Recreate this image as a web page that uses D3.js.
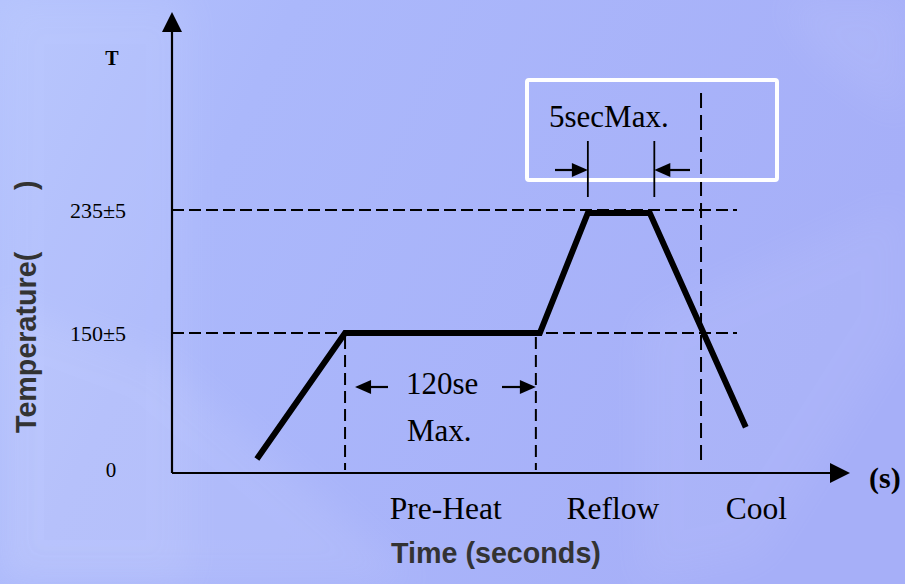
<!DOCTYPE html>
<html><head><meta charset="utf-8">
<script src="https://cdn.jsdelivr.net/npm/d3@7"></script>
<style>html,body{margin:0;padding:0;overflow:hidden;background:#aab6fa}svg{display:block}</style>
</head><body>
<svg id="c" width="905" height="584"></svg>
<script>
// ---- data (schematic units: time 0..100, temperature in °C) ----
const profileTime = [12.9, 26.3, 55.9, 63.2, 72.6, 87.2];
const profileTemp = [15, 150, 150, 233, 233, 49];
const refTemps = [150, 235];
const refLabels = ["150±5", "235±5"];
const zeroLabel = "0";
const zoneLabels = ["Pre-Heat", "Reflow", "Cool"];
const zoneLabelTime = [41.6, 67.0, 88.8];
const zoneBoundTime = [26.3, 55.3, 80.4];
const preheatSpan = [26.3, 55.3];
const peakSpan = [63.2, 73.3];
const xTitle = "Time (seconds)";
const yTitle = ["Temperature(", ")"];
const xUnit = "(s)";
const yUnit = "T";

const svg = d3.select("#c");
const W = 905, H = 584;

// background
const defs = svg.append("defs");
const g1 = defs.append("linearGradient").attr("id","bg").attr("x1","0").attr("y1","0").attr("x2","1").attr("y2","0.3");
g1.append("stop").attr("offset","0").attr("stop-color","#b4c3fd");
g1.append("stop").attr("offset","0.3").attr("stop-color","#abb8fb");
g1.append("stop").attr("offset","1").attr("stop-color","#a6aff8");
svg.append("rect").attr("width",W).attr("height",H).attr("fill","url(#bg)");
const blur = defs.append("filter").attr("id","bl").attr("x","-50%").attr("y","-50%").attr("width","200%").attr("height","200%");
blur.append("feGaussianBlur").attr("stdDeviation", 18);
svg.append("path").attr("d","M0,300 L160,360 L420,584 L0,584 Z").attr("fill","#ffffff").attr("opacity",0.08).attr("filter","url(#bl)");
svg.append("path").attr("d","M0,0 L190,0 L190,584 L0,584 Z").attr("fill","#ffffff").attr("opacity",0.07).attr("filter","url(#bl)");
svg.append("path").attr("d","M640,320 L905,200 L905,330 L760,560 L640,584 Z").attr("fill","#ffffff").attr("opacity",0.05).attr("filter","url(#bl)");
svg.append("path").attr("d","M780,0 L905,0 L905,120 L820,60 Z").attr("fill","#ffffff").attr("opacity",0.06).attr("filter","url(#bl)");

// scales
const x = d3.scaleLinear().domain([0, 100]).range([172, 830]);
const y = d3.scaleLinear().domain([0, 150, 235]).range([473, 333, 210]);

const serif = "'Liberation Serif','Times New Roman',serif";
const sans = "'Liberation Sans',Arial,sans-serif";

// reference dashed lines
svg.selectAll(".ref").data(refTemps).join("line")
  .attr("x1", x(0)).attr("x2", 737)
  .attr("y1", d => y(d)).attr("y2", d => y(d))
  .attr("stroke","#000").attr("stroke-width",2).attr("stroke-dasharray","12,5");

// zone boundary dashed lines
[0,1].forEach(i => {
  svg.append("line").attr("x1", x(zoneBoundTime[i])).attr("x2", x(zoneBoundTime[i]))
    .attr("y1", y(150)+4).attr("y2", 470).attr("stroke","#000").attr("stroke-width",2).attr("stroke-dasharray","12,6");
});
svg.append("line").attr("x1", x(zoneBoundTime[2])).attr("x2", x(zoneBoundTime[2]))
  .attr("y1", 93).attr("y2", 465).attr("stroke","#000").attr("stroke-width",2).attr("stroke-dasharray","15,7");

// axes
svg.append("line").attr("x1", x(0)).attr("x2", x(0)).attr("y1", y(0)).attr("y2", 30)
  .attr("stroke","#000").attr("stroke-width",2.2);
svg.append("path").attr("d", `M${x(0)-10},32 L${x(0)},12 L${x(0)+10},32 Z`).attr("fill","#000");
svg.append("line").attr("x1", x(0)).attr("x2", 832).attr("y1", y(0)).attr("y2", y(0))
  .attr("stroke","#000").attr("stroke-width",2.2);
svg.append("path").attr("d", `M830,${y(0)-10} L850,${y(0)} L830,${y(0)+10} Z`).attr("fill","#000");

// profile
const line = d3.line().x(d => x(d[0])).y(d => y(d[1]));
svg.append("path").datum(profileTime.map((t,i)=>[t, profileTemp[i]]))
  .attr("d", line).attr("fill","none").attr("stroke","#000").attr("stroke-width",6)
  .attr("stroke-linejoin","miter");

// white box
svg.append("rect").attr("x",527).attr("y",80).attr("width",250).attr("height",100)
  .attr("fill","none").attr("stroke","#fff").attr("stroke-width",4).attr("rx",2);

// arrows helper
function arrow(x1, x2, yy) { // from x1 to tip at x2
  const dir = Math.sign(x2 - x1);
  svg.append("line").attr("x1", x1).attr("x2", x2 - dir*12).attr("y1", yy).attr("y2", yy)
    .attr("stroke","#000").attr("stroke-width",2.2);
  svg.append("path").attr("d", `M${x2},${yy} L${x2-dir*16},${yy-7} L${x2-dir*16},${yy+7} Z`).attr("fill","#000");
}

// 5 sec markers
peakSpan.forEach(t => {
  svg.append("line").attr("x1", x(t)).attr("x2", x(t)).attr("y1", 141).attr("y2", 197)
    .attr("stroke","#000").attr("stroke-width",1.8);
});
arrow(555, x(peakSpan[0]), 170);
arrow(690, x(peakSpan[1]), 170);
svg.append("text").attr("x", 549).attr("y", 127).attr("font-family", serif).attr("font-size", 31)
  .text("5secMax.");

// 120 sec markers
arrow(388, x(preheatSpan[0]) + 10, 387);
arrow(502, x(preheatSpan[1]), 387);
svg.append("text").attr("x", 406).attr("y", 394).attr("font-family", serif).attr("font-size", 31).text("120se");
svg.append("text").attr("x", 407).attr("y", 441).attr("font-family", serif).attr("font-size", 31).text("Max.");

// y tick labels
svg.selectAll(".yl").data(refTemps).join("text")
  .attr("x", 126).attr("y", d => y(d) + 8).attr("text-anchor","end")
  .attr("font-family", serif).attr("font-size", 22).text((d,i) => refLabels[i]);
svg.append("text").attr("x", 111).attr("y", 477).attr("text-anchor","middle")
  .attr("font-family", serif).attr("font-size", 21).text(zeroLabel);
svg.append("text").attr("x", 112).attr("y", 65).attr("text-anchor","middle")
  .attr("font-family", serif).attr("font-weight","bold").attr("font-size", 20).text(yUnit);

// zone labels
svg.selectAll(".zl").data(zoneLabels).join("text")
  .attr("x", (d,i) => x(zoneLabelTime[i])).attr("y", 519).attr("text-anchor","middle")
  .attr("font-family", serif).attr("font-size", 31.5).text(d => d);

// unit and titles
svg.append("text").attr("x", 869).attr("y", 488).attr("font-family", serif).attr("font-weight","bold")
  .attr("font-size", 30).text(xUnit);
svg.append("text").attr("x", 391).attr("y", 563).attr("font-family", sans).attr("font-weight","bold")
  .attr("font-size", 28.7).attr("fill","#333").text(xTitle);
const yt = svg.append("g").attr("transform","translate(36,433) rotate(-90)");
yt.append("text").attr("x",0).attr("y",0).attr("font-family", sans).attr("font-weight","bold")
  .attr("font-size", 28.7).attr("fill","#333").text(yTitle[0]);
yt.append("text").attr("x",243).attr("y",0).attr("font-family", sans).attr("font-weight","bold")
  .attr("font-size", 28.7).attr("fill","#333").text(yTitle[1]);
</script>
</body></html>
